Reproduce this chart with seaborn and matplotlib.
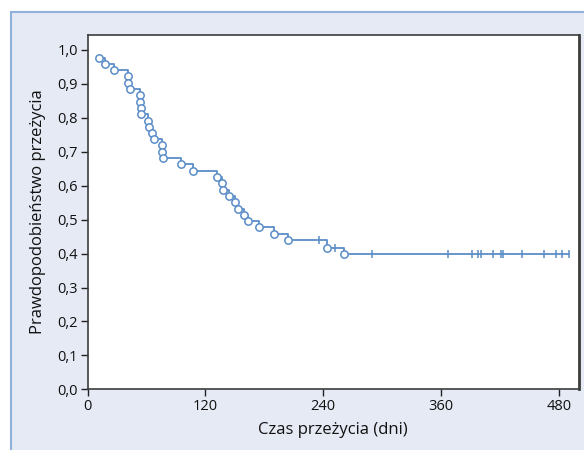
import matplotlib
matplotlib.use("Agg")
import matplotlib.pyplot as plt
import seaborn as sns
import pandas as pd
from matplotlib.patches import Rectangle

# Event times (days) and survival probability after each event
event_times = [12.0, 17.8, 27.3, 41.2, 41.2, 43.6, 53.5, 53.5, 54.5, 54.5,
               61.3, 62.6, 65.4, 67.7, 75.6, 75.6, 76.9, 95.2, 107.7, 131.4,
               136.7, 138.0, 143.6, 150.4, 153.5, 159.6, 163.1, 174.8, 189.9, 203.7,
               244.2, 261.5]
event_surv = [0.977, 0.958, 0.940, 0.922, 0.902, 0.884, 0.867, 0.848, 0.829, 0.811,
              0.792, 0.774, 0.754, 0.737, 0.719, 0.698, 0.682, 0.663, 0.643, 0.626,
              0.607, 0.588, 0.570, 0.551, 0.532, 0.513, 0.495, 0.477, 0.458, 0.439,
              0.417, 0.399]
# Censored observations
censor_times = [235.4, 252.0, 289.4, 366.8, 391.6, 397.7, 400.4, 412.9, 420.8,
                423.1, 442.2, 464.9, 477.1, 482.9, 490.6]
censor_surv = [0.439, 0.417, 0.399, 0.399, 0.399, 0.399, 0.399, 0.399, 0.399,
               0.399, 0.399, 0.399, 0.399, 0.399, 0.399]

x_ticks = [0, 120, 240, 360, 480]
y_ticks = [0.0, 0.1, 0.2, 0.3, 0.4, 0.5, 0.6, 0.7, 0.8, 0.9, 1.0]
y_ticklabels = ["0,0", "0,1", "0,2", "0,3", "0,4", "0,5", "0,6", "0,7", "0,8", "0,9", "1,0"]
x_label = "Czas przeżycia (dni)"
y_label = "Prawdopodobieństwo przeżycia"

sns.set_theme(style="white")
plt.rcParams["font.family"] = ["Open Sans", "DejaVu Sans"]

line_color = "#5A8DC8"

fig = plt.figure(figsize=(5.84, 4.5), dpi=100)
fig.patch.set_facecolor("white")
bg = Rectangle((11 / 584, -0.01), 1.0, 1 - 12 / 450 + 0.01,
               transform=fig.transFigure, facecolor="#E6EAF5",
               edgecolor="#8FB1DA", linewidth=1.5, zorder=-10)
fig.add_artist(bg)

ax = fig.add_axes([87.5 / 584, 1 - 389.3 / 450, (578.7 - 87.5) / 584, (389.3 - 34.7) / 450])
ax.set_zorder(5)
ax.set_facecolor("white")

step_df = pd.DataFrame({
    "t": event_times + [censor_times[-1]],
    "s": event_surv + [event_surv[-1]],
})
sns.lineplot(data=step_df, x="t", y="s", drawstyle="steps-post", estimator=None,
             sort=False, color=line_color, linewidth=1.3, ax=ax)

ev_df = pd.DataFrame({"t": event_times, "s": event_surv})
sns.scatterplot(data=ev_df, x="t", y="s", marker="o", s=28, facecolor="white",
                edgecolor=line_color, linewidth=1.1, ax=ax, zorder=3)

cen_df = pd.DataFrame({"t": censor_times, "s": censor_surv})
sns.scatterplot(data=cen_df, x="t", y="s", marker="|", s=40, color=line_color,
                linewidth=1.1, ax=ax, zorder=3)

ax.set_xlim(0, 500)
ax.set_ylim(0, 1.045)
ax.set_xticks(x_ticks)
ax.set_xticklabels([str(v) for v in x_ticks])
ax.set_yticks(y_ticks)
ax.set_yticklabels(y_ticklabels)
ax.tick_params(axis="both", which="major", direction="out", length=5, width=1,
               color="#222222", labelsize=10.5, labelcolor="#111111", pad=2,
               bottom=True, left=True)
for side in ["left", "bottom", "top", "right"]:
    ax.spines[side].set_visible(True)
    ax.spines[side].set_color("#3C3C3C")
    ax.spines[side].set_linewidth(1.2)
ax.spines["right"].set_linewidth(2.0)

ax.set_xlabel(x_label, fontsize=12, color="#111111", labelpad=6)
ax.set_ylabel(y_label, fontsize=12, color="#111111", labelpad=8)

fig.savefig("out.png", dpi=100)
